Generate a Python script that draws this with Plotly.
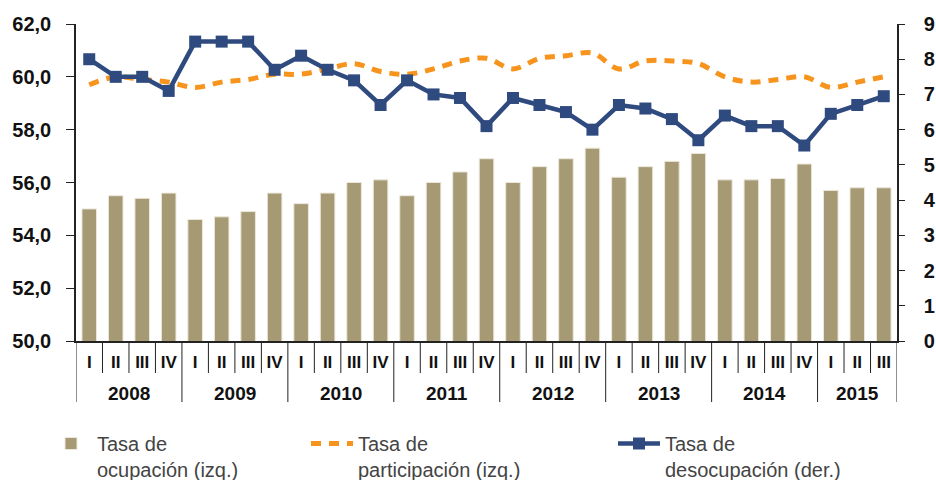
import plotly.graph_objects as go

# Quarters 2008 I - 2015 III
years = ["2008"] * 4 + ["2009"] * 4 + ["2010"] * 4 + ["2011"] * 4 + \
    ["2012"] * 4 + ["2013"] * 4 + ["2014"] * 4 + ["2015"] * 3
quarters = ["I", "II", "III", "IV"] * 7 + ["I", "II", "III"]

# Tasa de ocupación (izq.)
ocupacion = [55.0, 55.5, 55.4, 55.6, 54.6, 54.7, 54.9, 55.6,
             55.2, 55.6, 56.0, 56.1, 55.5, 56.0, 56.4, 56.9,
             56.0, 56.6, 56.9, 57.3, 56.2, 56.6, 56.8, 57.1,
             56.1, 56.1, 56.15, 56.7, 55.7, 55.8, 55.8]

# Tasa de participación (izq.)
participacion = [59.7, 60.0, 59.9, 59.8, 59.6, 59.8, 59.9, 60.1,
                 60.1, 60.3, 60.5, 60.2, 60.1, 60.3, 60.6, 60.7,
                 60.3, 60.7, 60.8, 60.9, 60.3, 60.6, 60.6, 60.5,
                 60.0, 59.8, 59.9, 60.0, 59.6, 59.8, 60.0]

# Tasa de desocupación (der.)
desocupacion = [8.0, 7.5, 7.5, 7.1, 8.5, 8.5, 8.5, 7.7,
                8.1, 7.7, 7.4, 6.7, 7.4, 7.0, 6.9, 6.1,
                6.9, 6.7, 6.5, 6.0, 6.7, 6.6, 6.3, 5.7,
                6.4, 6.1, 6.1, 5.55, 6.45, 6.7, 6.95]

W, H = 936, 480
L, R, T, B = 76, 39, 24, 139
PW, PH = W - L - R, H - T - B
X0, Y1 = L, H - B


def px_x(px):
    return (px - X0) / PW


def px_y(py):
    return (Y1 - py) / PH


idx = list(range(len(quarters)))
AX = "#222"
bold = dict(family="Liberation Sans, Arial", color="#111", weight="bold")
legend_font = dict(family="Liberation Sans Narrow, Liberation Sans, Arial",
                   size=20, color="#444")

fig = go.Figure()

fig.add_trace(go.Bar(
    x=idx, y=ocupacion, name="Tasa de<br>ocupación (izq.)",
    marker=dict(color="#A69A75", line=dict(color="#ECE7DA", width=1)),
    legend="legend", showlegend=True,
))

fig.add_trace(go.Scatter(
    x=idx, y=participacion, name="Tasa de<br>participación (izq.)",
    mode="lines", line=dict(color="#F7941D", width=5, dash="10px,8px", shape="spline"),
    legend="legend2", showlegend=True,
))

fig.add_trace(go.Scatter(
    x=idx, y=desocupacion, name="Tasa de<br>desocupación (der.)", yaxis="y2",
    mode="lines+markers",
    line=dict(color="#2F4A7E", width=4.5),
    marker=dict(symbol="square", size=12, color="#2F4A7E"),
    legend="legend3", showlegend=True,
))

# quarter and year dividers below the axis
shapes = []
for i in range(len(quarters) + 1):
    new_year = i == 0 or i == len(quarters) or years[i] != years[i - 1]
    shapes.append(dict(type="line", xref="x", yref="paper",
                       x0=i - 0.5, x1=i - 0.5, y0=0,
                       y1=px_y(402) if new_year else px_y(373),
                       line=dict(color=AX, width=1)))

# year labels centred under their quarters
annotations = []
for yr in dict.fromkeys(years):
    pos = [i for i, v in enumerate(years) if v == yr]
    annotations.append(dict(x=sum(pos) / len(pos), y=px_y(393), xref="x", yref="paper",
                            text=yr, showarrow=False, yanchor="middle",
                            font=dict(bold, size=19)))


def leg(px, py):
    return dict(x=px_x(px), y=px_y(py), xanchor="left", yanchor="top", valign="top",
                itemwidth=42, font=legend_font, bgcolor="rgba(0,0,0,0)")


fig.update_layout(
    width=W, height=H,
    margin=dict(l=L, r=R, t=T, b=B, autoexpand=False),
    plot_bgcolor="white", paper_bgcolor="white",
    separators=",.",
    bargap=0.45,
    showlegend=True,
    shapes=shapes,
    annotations=annotations,
    xaxis=dict(
        range=[-0.5, len(quarters) - 0.5],
        tickmode="array", tickvals=idx, ticktext=quarters, tickangle=0,
        showline=True, linecolor=AX, linewidth=1.5,
        ticks="outside", ticklen=5, tickcolor="rgba(0,0,0,0)",
        tickfont=dict(bold, size=17),
        showgrid=False, zeroline=False,
    ),
    yaxis=dict(
        range=[50, 62], dtick=2, tickformat=".1f",
        showline=True, linecolor=AX, linewidth=1.5,
        ticks="outside", ticklen=8, tickcolor=AX,
        ticklabelstandoff=11,
        showgrid=False, zeroline=False,
        tickfont=dict(bold, size=20),
    ),
    yaxis2=dict(
        range=[0, 9], dtick=1, overlaying="y", side="right",
        showline=True, linecolor=AX, linewidth=1.5,
        ticks="outside", ticklen=6, tickcolor=AX,
        ticklabelstandoff=15,
        showgrid=False, zeroline=False,
        tickfont=dict(bold, size=20),
    ),
    legend=leg(45, 424),
    legend2=leg(306, 424),
    legend3=leg(613, 424),
)

# drop the default page margin so the 936x480 figure fills the window exactly
fig.write_html("out.html", config={"displayModeBar": False},
               post_script="document.body.style.margin='0';document.body.style.overflow='hidden';")
